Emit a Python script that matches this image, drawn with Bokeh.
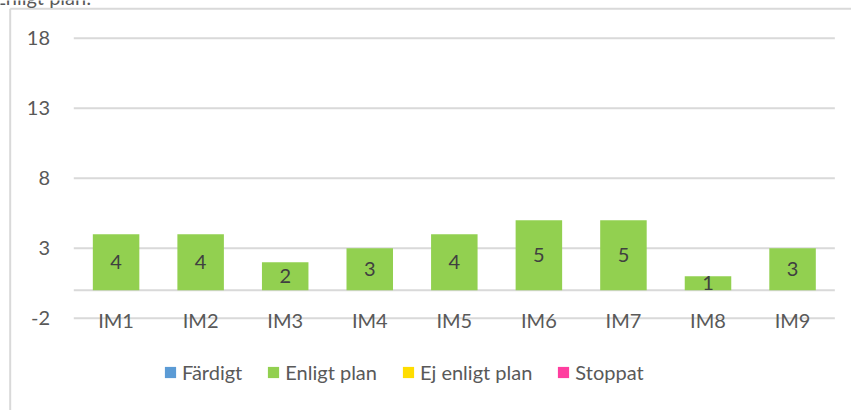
from bokeh.plotting import figure
from bokeh.models import Range1d, Legend, LegendItem, ColumnDataSource
from bokeh.core.properties import value
from bokeh.embed import file_html
from bokeh.resources import INLINE

# ---- data ----
categories = ["IM1", "IM2", "IM3", "IM4", "IM5", "IM6", "IM7", "IM8", "IM9"]
fardigt = [0, 0, 0, 0, 0, 0, 0, 0, 0]
enligt_plan = [4, 4, 2, 3, 4, 5, 5, 1, 3]
ej_enligt_plan = [0, 0, 0, 0, 0, 0, 0, 0, 0]
stoppat = [0, 0, 0, 0, 0, 0, 0, 0, 0]
series_names = ["Färdigt", "Enligt plan", "Ej enligt plan", "Stoppat"]
series_colors = ["#5B9BD5", "#92D050", "#FFDD00", "#FF3E9F"]
y_ticks = [-2, 3, 8, 13, 18]
title_text = "Enligt plan:"

FONT = value("Lato")
FS = "20px"
GRAY = "#595959"
DARK = "#404040"
GRID = "#d9d9d9"

W, H = 851, 410
# pixel layout of the plot area inside the canvas (frame == whole canvas)
PX0, PXBAND = 73.3, 84.56      # left edge of first category band, band width
PY0, PYUNIT = 289.7, 14.0      # pixel row of value 0, pixels per unit


def dx(px):
    return (px - PX0) / PXBAND


def dy(py):
    return (PY0 - py) / PYUNIT


n = len(categories)
xpos = [i + 0.5 for i in range(n)]

src = ColumnDataSource(dict(x=xpos, cat=categories, s0=fardigt, s1=enligt_plan,
                            s2=ej_enligt_plan, s3=stoppat))

p = figure(x_range=Range1d(dx(0), dx(W)), y_range=Range1d(dy(H), dy(0)),
           width=W, height=H, output_backend="svg", toolbar_location=None,
           x_axis_location=None, y_axis_location=None,
           min_border=0, min_border_left=0, min_border_right=0,
           min_border_top=0, min_border_bottom=0)
p.outline_line_color = None
p.grid.visible = False

# chart-area border (runs off the right and bottom of the window)
bx, by = dx(9.7), dy(8.3)
p.segment(x0=[bx, bx], y0=[by, by], x1=[bx, dx(W + 20)], y1=[dy(H + 20), by],
          line_color=GRID, line_width=2)

# horizontal gridlines at the ticks and the zero baseline
p.segment(x0=[0] * (len(y_ticks) + 1), x1=[n] * (len(y_ticks) + 1),
          y0=y_ticks + [0], y1=y_ticks + [0], line_color=GRID, line_width=2)

# bars
renderers = p.vbar_stack(["s0", "s1", "s2", "s3"], x="x", width=0.55,
                         fill_color=series_colors, line_color=None, source=src)

# y tick labels
p.text(x=[dx(49.5)] * len(y_ticks), y=y_ticks, text=[str(t) for t in y_ticks],
       text_font=FONT, text_font_size=FS, text_color=GRAY,
       text_align="right", text_baseline="middle")

# bar value labels
p.text(x=xpos, y=[v / 2 for v in enligt_plan], text=[str(v) for v in enligt_plan],
       text_font=FONT, text_font_size=FS, text_color=DARK,
       text_align="center", text_baseline="middle")

# category labels at the bottom tick
p.text(x=xpos, y=[y_ticks[0]] * n, text=categories,
       text_font=FONT, text_font_size=FS, text_color=GRAY,
       text_align="center", text_baseline="middle", y_offset=2)

# cut-off chart title at the very top
p.text(x=[dx(-6)], y=[dy(-3.5)], text=[title_text],
       text_font=FONT, text_font_size=FS, text_color=GRAY,
       text_align="left", text_baseline="alphabetic")

# legend
items = [LegendItem(label=nm, renderers=[r]) for nm, r in zip(series_names, renderers)]
legend = Legend(items=items, orientation="horizontal", location=(163, 26),
                padding=0, margin=0, spacing=24, label_standoff=5,
                glyph_width=14, glyph_height=14, label_height=20,
                label_text_font="Lato", label_text_font_size=FS,
                label_text_color=GRAY, border_line_color=None,
                background_fill_alpha=0)
p.add_layout(legend, "center")

open("out.html", "w").write(file_html(p, INLINE))
